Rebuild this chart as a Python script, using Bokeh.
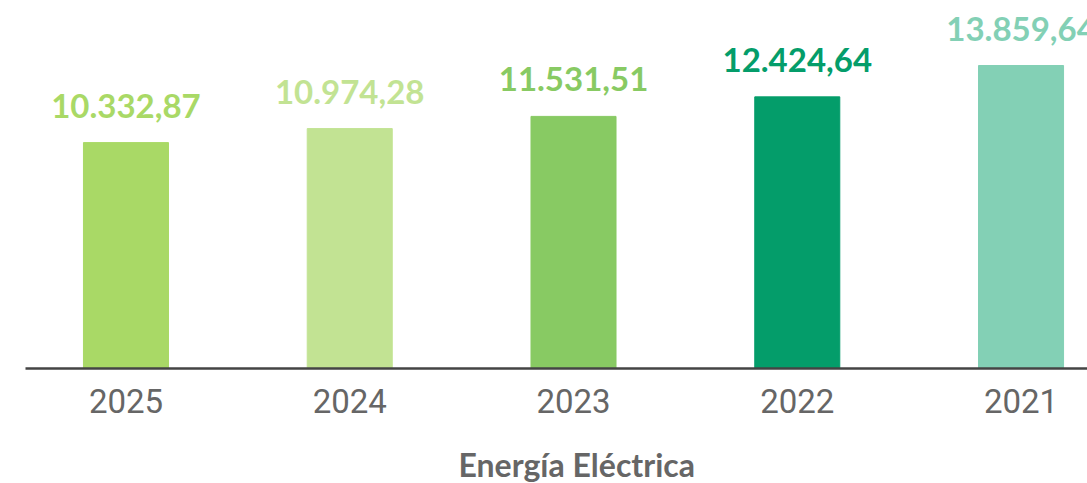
from bokeh.plotting import figure
from bokeh.models import ColumnDataSource, Range1d, FixedTicker, Title
from bokeh.core.properties import value
from bokeh.embed import file_html
from bokeh.resources import INLINE

years = ["2025", "2024", "2023", "2022", "2021"]
values = [10332.87, 10974.28, 11531.51, 12424.64, 13859.64]
labels = ["10.332,87", "10.974,28", "11.531,51", "12.424,64", "13.859,64"]
colors = ["#a9d966", "#c2e393", "#88ca63", "#049d6a", "#83d0b5"]
axis_title = "Energía Eléctrica"

xpos = list(range(len(years)))
src = ColumnDataSource(dict(x=xpos, top=values, label=labels, color=colors))

p = figure(width=1087, height=483, output_backend="svg", toolbar_location=None,
           x_range=Range1d(-0.449, 4.297), y_range=Range1d(0, 16833),
           min_border_left=25, min_border_right=0, min_border_top=0, min_border_bottom=115)
p.vbar(x="x", top="top", width=0.38, color="color", source=src)
p.text(x="x", y="top", text="label", text_color="color", source=src,
       text_align="center", text_baseline="alphabetic", y_offset=-37,
       text_font=value("Lato"), text_font_style="bold", text_font_size="33px")

p.xaxis.ticker = FixedTicker(ticks=xpos)
p.xaxis.major_label_overrides = {i: y for i, y in zip(xpos, years)}
p.xaxis.major_label_text_font = "Roboto"
p.xaxis.major_label_text_font_size = "33px"
p.xaxis.major_label_text_color = "#666666"
p.xaxis.major_label_standoff = 14
p.xaxis.major_tick_line_color = None
p.xaxis.minor_tick_line_color = None
p.xaxis.axis_line_color = "#444444"
p.xaxis.axis_line_width = 2.5
# blank spacer label to push the title down
p.xaxis.axis_label = " "
p.xaxis.axis_label_text_font_size = "10px"
p.xaxis.axis_label_standoff = 13

t = Title(text=axis_title, align="left", offset=433, text_font="Lato",
          text_font_style="bold", text_font_size="32px", text_color="#666666",
          standoff=0)
p.add_layout(t, "below")

p.yaxis.visible = False
p.xgrid.grid_line_color = None
p.ygrid.grid_line_color = None
p.outline_line_color = None

open("out.html", "w").write(file_html(p, INLINE))
